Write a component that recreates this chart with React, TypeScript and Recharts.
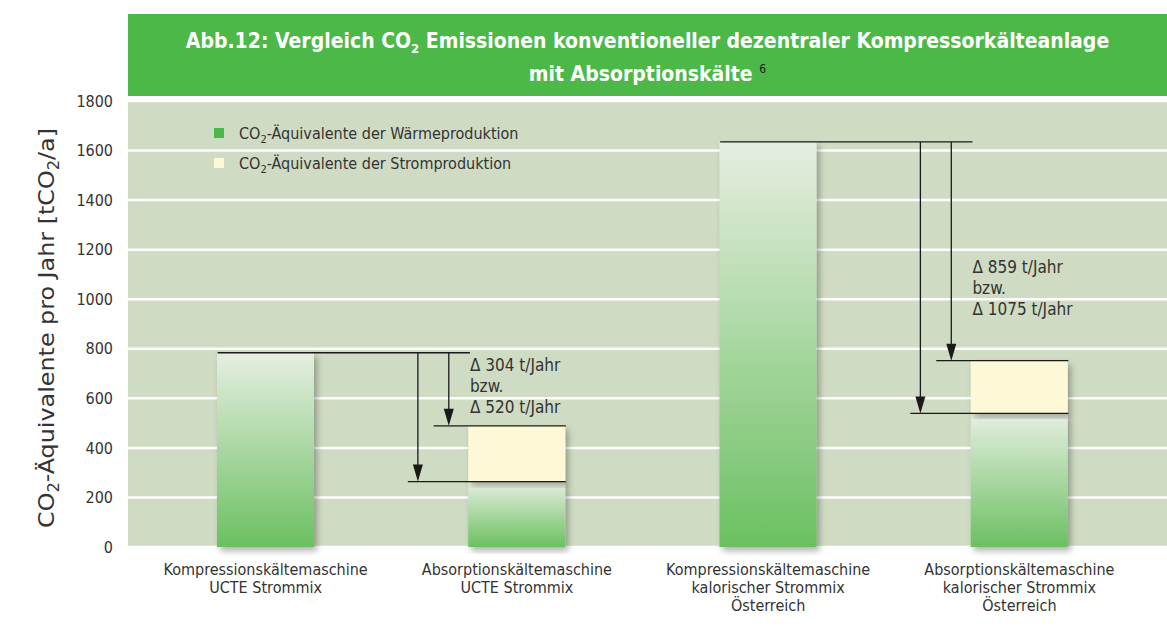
import React from 'react';
import {
  ComposedChart,
  Bar,
  XAxis,
  YAxis,
  CartesianGrid,
  ReferenceLine,
  Legend,
} from 'recharts';

const FONT = '"Liberation Sans Narrow", "DejaVu Sans Condensed", Arial, sans-serif';
const TEXT = '#333';
const LINE = '#1a1a1a';

const categories = [
  'Kompressionskältemaschine\nUCTE Strommix',
  'Absorptionskältemaschine\nUCTE Strommix',
  'Kompressionskältemaschine\nkalorischer Strommix\nÖsterreich',
  'Absorptionskältemaschine\nkalorischer Strommix\nÖsterreich',
];
const waermeValues = [784, 264, 1635, 539];
const stromValues = [0, 225, 0, 213];
const yTicks = [0, 200, 400, 600, 800, 1000, 1200, 1400, 1600, 1800];
const deltaLabels = [
  ['\u0394 304 t/Jahr', 'bzw.', '\u0394 520 t/Jahr'],
  ['\u0394 859 t/Jahr', 'bzw.', '\u0394 1075 t/Jahr'],
];
const deltaTextY = [710, 1106];

const data = categories.map((name, i) => ({
  name,
  waerme: waermeValues[i],
  strom: stromValues[i],
}));

const ShadowRect = (props: any) => {
  const { x, y, width, height, fill } = props;
  if (!height || height <= 0) return <g />;
  return <rect x={x} y={y} width={width} height={height} fill={fill} filter="url(#barShadow)" />;
};

const CategoryTick = (props: any) => {
  const { x, y, payload } = props;
  const lines = String(payload.value).split('\n');
  return (
    <text x={x} y={y} textAnchor="middle" fill={TEXT} fontFamily={FONT} fontSize={16}>
      {lines.map((l, i) => (
        <tspan key={i} x={x} dy={i === 0 ? 20 : 18}>
          {l}
        </tspan>
      ))}
    </text>
  );
};

const YLabel = () => (
  <text
    x={0}
    y={0}
    transform="translate(54,328) rotate(-90)"
    textAnchor="middle"
    fill={TEXT}
    fontFamily={FONT}
    fontSize={22}
    textLength={400}
    lengthAdjust="spacingAndGlyphs"
  >
    CO<tspan fontSize={15} dy={5}>2</tspan>
    <tspan dy={-5}>-Äquivalente pro Jahr [tCO</tspan>
    <tspan fontSize={15} dy={5}>2</tspan>
    <tspan dy={-5}>/a]</tspan>
  </text>
);

// positions are given in band units, measured from the left edge of the pair's first band;
// the segment runs from the first category centre to the second, so x2 - x1 is one band
const bandX = (p: any, off: number) => p.x1 + (off - 0.5) * (p.x2 - p.x1);

const hLineShape = (from: number, to: number) => (p: any) => (
  <line x1={bandX(p, from)} x2={bandX(p, to)} y1={p.y1} y2={p.y1} stroke={LINE} strokeWidth={1.3} />
);

const arrowShape = (off: number) => (p: any) => {
  const x = bandX(p, off);
  return (
    <g>
      <line x1={x} x2={x} y1={p.y1} y2={p.y2 - 10} stroke={LINE} strokeWidth={1.3} />
      <polygon points={`${x - 5},${p.y2 - 17} ${x + 5},${p.y2 - 17} ${x},${p.y2}`} fill={LINE} />
    </g>
  );
};

const textShape = (off: number, lines: string[]) => (p: any) => {
  const x = bandX(p, off);
  return (
    <text x={x} y={p.y1} fill={TEXT} fontFamily={FONT} fontSize={17}>
      {lines.map((l, i) => (
        <tspan key={i} x={x} y={p.y1 + i * 21}>
          {l}
        </tspan>
      ))}
    </text>
  );
};

const LegendContent = () => (
  <div style={{ fontFamily: FONT, fontSize: 16, color: TEXT }}>
    {[
      { color: '#4cb848', label: 'der Wärmeproduktion' },
      { color: '#fdf8d5', label: 'der Stromproduktion' },
    ].map((it, i) => (
      <div key={i} style={{ display: 'flex', alignItems: 'center', height: 30 }}>
        <span style={{ width: 10, height: 10, background: it.color, marginRight: 15 }} />
        <span>
          CO<span style={{ fontSize: 11, position: 'relative', top: 4 }}>2</span>-Äquivalente {it.label}
        </span>
      </div>
    ))}
  </div>
);

export default function App() {
  const annotations = deltaLabels.map((lines, k) => {
    const a = categories[2 * k];
    const b = categories[2 * k + 1];
    const top = waermeValues[2 * k] + stromValues[2 * k];
    const total = waermeValues[2 * k + 1] + stromValues[2 * k + 1];
    const green = waermeValues[2 * k + 1];
    const seg = (y1: number, y2: number) => [
      { x: a, y: y1 },
      { x: b, y: y2 },
    ];
    return (
      <React.Fragment key={k}>
        <ReferenceLine ifOverflow="visible" segment={seg(top, top)} shape={hLineShape(0.309, 1.313)} />
        <ReferenceLine ifOverflow="visible" segment={seg(total, total)} shape={hLineShape(1.169, 1.695)} />
        <ReferenceLine ifOverflow="visible" segment={seg(green, green)} shape={hLineShape(1.066, 1.695)} />
        <ReferenceLine ifOverflow="visible" segment={seg(top, green)} shape={arrowShape(1.106)} />
        <ReferenceLine ifOverflow="visible" segment={seg(top, total)} shape={arrowShape(1.229)} />
        <ReferenceLine
          ifOverflow="visible"
          segment={seg(deltaTextY[k], deltaTextY[k])}
          shape={textShape(1.313, lines)}
        />
      </React.Fragment>
    );
  });

  return (
    <div style={{ position: 'relative', width: 1167, height: 634, background: '#fff' }}>
      <style>{'body{margin:0}'}</style>
      <div
        style={{
          position: 'absolute',
          left: 128,
          top: 14,
          width: 1039,
          height: 82,
          background: '#4cb848',
          color: '#fff',
          fontFamily: FONT,
          fontWeight: 'bold',
          fontSize: 21,
          textAlign: 'center',
          lineHeight: '30px',
          paddingTop: 12,
          boxSizing: 'border-box',
        }}
      >
        <div>
          Abb.12: Vergleich CO<span style={{ fontSize: 13, position: 'relative', top: 5 }}>2</span> Emissionen
          konventioneller dezentraler Kompressorkälteanlage
        </div>
        <div>
          mit Absorptionskälte{' '}
          <span style={{ fontSize: 12, fontWeight: 'normal', color: '#1a1a1a', position: 'relative', top: -8 }}>6</span>
        </div>
      </div>
      <ComposedChart
        width={1167}
        height={634}
        data={data}
        margin={{ top: 101, right: 0, left: 0, bottom: 57 }}
        style={{ position: 'absolute', left: 0, top: 0 }}
      >
        <defs>
          <linearGradient id="greenGrad" x1="0" y1="0" x2="0" y2="1">
            <stop offset="0%" stopColor="#e6eee1" />
            <stop offset="100%" stopColor="#6bc061" />
          </linearGradient>
          <filter id="barShadow" x="-20%" y="-5%" width="150%" height="115%">
            <feDropShadow dx="3" dy="4" stdDeviation="3" floodColor="#000" floodOpacity="0.3" />
          </filter>
        </defs>
        <CartesianGrid vertical={false} stroke="#fff" strokeWidth={2.5} fill="#cfdbc3" strokeOpacity={1} />
        <XAxis
          dataKey="name"
          height={30}
          axisLine={false}
          tickLine={false}
          padding={{ left: 12, right: 22 }}
          tick={<CategoryTick />}
          interval={0}
        />
        <YAxis
          width={128}
          domain={[0, 1800]}
          ticks={yTicks}
          axisLine={false}
          tickLine={false}
          tickMargin={9}
          tick={{ fill: TEXT, fontFamily: FONT, fontSize: 16 }}
          label={{ content: <YLabel /> }}
        />
        <Legend
          layout="vertical"
          align="center"
          verticalAlign="middle"
          wrapperStyle={{ left: 214, top: 118, width: 360 }}
          content={<LegendContent />}
        />
        <Bar dataKey="waerme" stackId="a" barSize={97} fill="url(#greenGrad)" shape={<ShadowRect />} isAnimationActive={false} />
        <Bar dataKey="strom" stackId="a" barSize={97} fill="#fdf8d5" shape={<ShadowRect />} isAnimationActive={false} />
        {annotations}
      </ComposedChart>
    </div>
  );
}
